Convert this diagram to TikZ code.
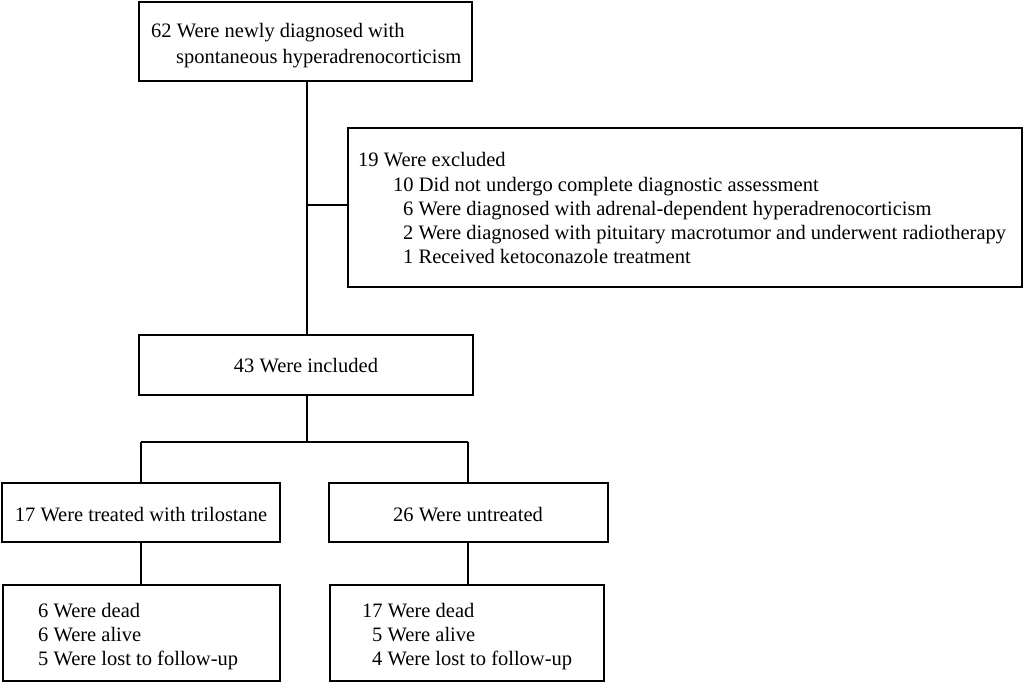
\documentclass[tikz,border=0pt]{standalone}
\usepackage{fontspec}
\setmainfont{Liberation Serif}
\begin{document}
\begin{tikzpicture}[x=1pt,y=-1pt,
  boxst/.style={draw=black,line width=2pt,rectangle,inner sep=0pt,minimum width=#1},
  txt/.style={inner sep=0pt,anchor=base west,font=\fontsize{20.5}{24}\selectfont},
  ctxt/.style={inner sep=0pt,anchor=base,font=\fontsize{20.5}{24}\selectfont},
  conn/.style={draw=black,line width=2pt}]
\useasboundingbox (0,0) rectangle (1024,683);
% boxes
\node[boxst=333pt,minimum height=79pt] (top) at (305.5,41.5) {};
\node[boxst=674pt,minimum height=159pt] (excl) at (685,207.5) {};
\node[boxst=334pt,minimum height=60pt] (inc) at (306,365) {};
\node[boxst=278pt,minimum height=59pt] (treat) at (141,512.5) {};
\node[boxst=279pt,minimum height=59pt] (untr) at (468,512.5) {};
\node[boxst=277pt,minimum height=96pt] (bl) at (141.5,633) {};
\node[boxst=274pt,minimum height=96pt] (br) at (467,633) {};
% texts
\node[txt] (t1) at (151,37) {62 Were newly diagnosed with};
\node[txt] (t2) at (176,63) {spontaneous hyperadrenocorticism};
\node[txt] (e1) at (358,166) {19 Were excluded};
\node[txt] (e2) at (393,191) {10 Did not undergo complete diagnostic assessment};
\node[txt] (e3) at (403,215) {6 Were diagnosed with adrenal-dependent hyperadrenocorticism};
\node[txt] (e4) at (403,239) {2 Were diagnosed with pituitary macrotumor and underwent radiotherapy};
\node[txt] (e5) at (403,263) {1 Received ketoconazole treatment};
\node[ctxt] (i1) at (306,372) {43 Were included};
\node[ctxt] (tr1) at (141,521) {17 Were treated with trilostane};
\node[ctxt] (u1) at (468,521) {26 Were untreated};
\node[txt] (l1) at (38,617) {6 Were dead};
\node[txt] (l2) at (38,641) {6 Were alive};
\node[txt] (l3) at (38,665) {5 Were lost to follow-up};
\node[txt] (r1) at (362,617) {17 Were dead};
\node[txt] (r2) at (372,641) {5 Were alive};
\node[txt] (r3) at (372,665) {4 Were lost to follow-up};
% connectors
\coordinate (j) at (307,205);
\coordinate (b) at (307,442);
\coordinate (bl0) at (141,442);
\coordinate (br0) at (468,442);
\draw[conn] (top.south -| j) -- (inc.north -| j);
\draw[conn] (j) -- (j -| excl.west);
\draw[conn] (inc.south -| b) -- (b);
\draw[conn] (bl0) -- (br0);
\draw[conn] (bl0) -- (treat.north -| bl0);
\draw[conn] (br0) -- (untr.north -| br0);
\draw[conn] (treat.south -| bl0) -- (bl.north -| bl0);
\draw[conn] (untr.south -| br0) -- (br.north -| br0);
\end{tikzpicture}
\end{document}
